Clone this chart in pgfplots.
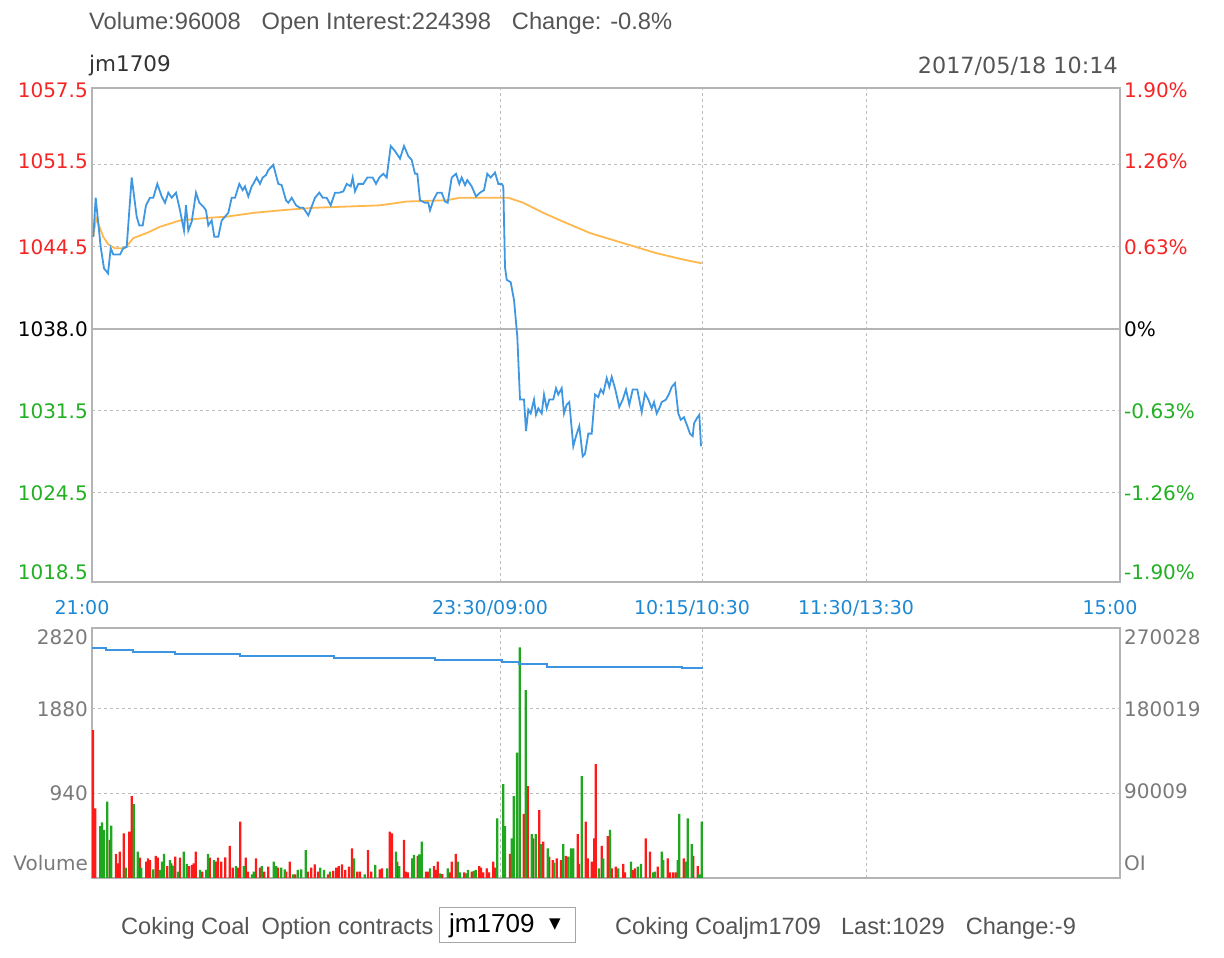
\documentclass[border=0pt]{standalone}
\usepackage{fontspec}
\setmainfont{Liberation Sans}
\newfontfamily\dejavu{DejaVu Sans}
\usepackage{pgfplots}
\pgfplotsset{compat=1.18}
\definecolor{pblue}{HTML}{3F97E2}
\definecolor{porange}{HTML}{FFB84D}
\definecolor{vred}{HTML}{FF1A1A}
\definecolor{vgreen}{HTML}{1FA71F}
\definecolor{lred}{HTML}{F52525}
\definecolor{lgreen}{HTML}{22B022}
\definecolor{tblue}{HTML}{1E88D2}
\definecolor{frame}{HTML}{B4B4B4}
\definecolor{gridc}{HTML}{BDBDBD}
\definecolor{txt}{HTML}{555555}
\definecolor{vtxt}{HTML}{7A7A7A}
\definecolor{oiblue}{HTML}{3D94E0}

\pgfplotsset{
  panel/.style={anchor=south west, width=1028pt, scale only axis,
    xmin=0, xmax=1028,
    major tick length=0pt,
    scaled y ticks=false,
    grid style={gridc, line width=1pt, dash pattern=on 3pt off 3pt},
  },
  lefttl/.style={yticklabel style={font=\dejavu\fontsize{20}{22}\selectfont, inner sep=0pt, xshift=-4pt}},
  righttl/.style={yticklabel pos=right, yticklabel style={font=\dejavu\fontsize{20}{22}\selectfont, inner sep=0pt, anchor=west, xshift=4pt}},
}

\begin{document}
\begin{tikzpicture}[x=1pt,y=1pt]
\useasboundingbox (0,0) rectangle (1224,958);

% header texts
\node[anchor=west, text=txt, font=\fontsize{23.7}{27}\selectfont, inner sep=0pt] at (89,935)
  {Volume:96008\hspace{21pt}Open Interest:224398\hspace{21pt}Change: -0.8\%};
\node[anchor=west, text=black!80, font=\dejavu\fontsize{21.5}{23}\selectfont, inner sep=0pt] at (89,892) {jm1709};
\node[anchor=east, text=txt, font=\dejavu\fontsize{22.3}{24}\selectfont, inner sep=0pt] at (1118,892) {2017/05/18 10:14};

% ---------------- price panel ----------------
\begin{axis}[panel, at={(92pt,376pt)}, height=494pt,
  ymin=1017.94, ymax=1057.1,
  axis line style={draw=frame, line width=1.6pt},
  xtick={0,408,610,774,1028},
  xticklabels={21:00,23:30/09:00,10:15/10:30,11:30/13:30,15:00},
  xmajorgrids,
  xticklabel style={font=\dejavu\fontsize{19}{21}\selectfont, text=tblue, inner sep=0pt, xshift=-10pt, yshift=-18pt},
  ytick={1018.74,1025,1031.5,1038,1044.5,1051.3,1056.95},
  yticklabels={\textcolor{lgreen}{1018.5},\textcolor{lgreen}{1024.5},\textcolor{lgreen}{1031.5},\textcolor{black}{1038.0},\textcolor{lred}{1044.5},\textcolor{lred}{1051.5},\textcolor{lred}{1057.5}},
  lefttl,
]
\draw[gridc, line width=1pt, dash pattern=on 3pt off 3pt] (axis cs:0,1025) -- (axis cs:1028,1025);
\draw[gridc, line width=1pt, dash pattern=on 3pt off 3pt] (axis cs:0,1031.5) -- (axis cs:1028,1031.5);
\draw[gridc, line width=1pt, dash pattern=on 3pt off 3pt] (axis cs:0,1044.5) -- (axis cs:1028,1044.5);
\draw[gridc, line width=1pt, dash pattern=on 3pt off 3pt] (axis cs:0,1051) -- (axis cs:1028,1051);
\draw[frame, line width=1.8pt] (axis cs:0,1038) -- (axis cs:1028,1038);

% average price
\addplot[porange, line width=1.8pt] coordinates {
(1.3,1045.3)(4,1046.8)(11.3,1045.3)(16.3,1044.7)(23,1044.4)(33,1044.4)(41.3,1045.2)(54.7,1045.6)(68,1046.1)(88,1046.6)(114.7,1046.8)(134.7,1046.9)(161.3,1047.2)(188,1047.4)(221.3,1047.6)(254.7,1047.7)(288,1047.8)(314.7,1048.1)(354.7,1048.2)(368,1048.4)(409.7,1048.4)(416.3,1048.4)(431.3,1048.0)(451.3,1047.2)(471.3,1046.5)(498,1045.6)(531.3,1044.8)(564.7,1044.0)(591.3,1043.5)(609.7,1043.2)
};
% price
\addplot[pblue, line width=1.8pt] coordinates {
(1.3,1045.3)(3.7,1048.4)(8.7,1044.5)(12,1042.8)(16,1042.4)(18.7,1044.4)(21.3,1043.9)(28,1043.9)(31.3,1044.4)(34.7,1044.5)(39.7,1050.0)(44.7,1046.9)(47.3,1046.2)(50.7,1046.2)(54,1047.8)(58,1048.4)(61.3,1048.4)(65.3,1049.5)(69.7,1048.5)(73,1048.0)(76.3,1048.8)(79.7,1048.4)(84,1048.8)(88,1047.4)(92,1045.8)(94,1047.8)(96.3,1045.8)(99.7,1046.5)(104,1048.8)(107.3,1048.0)(111.3,1047.7)(114,1047.4)(116.3,1046.2)(119.7,1046.6)(122.3,1045.3)(126.3,1045.3)(129.7,1046.6)(133,1046.9)(136.3,1047.2)(139.7,1048.4)(143,1048.4)(147.3,1049.5)(150.7,1049.0)(153,1049.3)(156.3,1048.5)(159.7,1049.3)(161.3,1049.5)(164.7,1050.0)(168,1049.5)(170.7,1050.0)(174,1050.2)(176.3,1050.6)(181.3,1051.0)(186.3,1049.5)(189.7,1049.4)(194,1048.2)(196.3,1048.0)(199.7,1048.4)(204,1047.8)(208,1047.6)(211.3,1047.6)(216.3,1047.0)(219.7,1047.7)(223,1048.4)(227.3,1048.8)(230.7,1048.4)(234.7,1048.4)(238.7,1047.8)(243,1048.8)(247.3,1048.8)(251.3,1048.9)(254.7,1049.5)(258.7,1049.3)(260.7,1050.0)(263,1048.9)(266.3,1049.5)(271.3,1049.5)(275.3,1050.0)(280.7,1050.0)(284,1049.5)(287.3,1050.0)(291.3,1050.3)(294.7,1050.0)(298.7,1052.5)(303,1052.1)(308,1051.5)(312,1052.5)(316.3,1051.7)(319.7,1051.4)(323,1050.3)(325.3,1050.3)(328,1048.2)(333,1048.0)(336.3,1048.0)(338,1047.4)(341.3,1048.2)(345.3,1048.8)(349.7,1048.8)(353,1048.1)(355.7,1048.0)(359.7,1050.0)(364,1050.3)(367.3,1049.5)(369.7,1050.0)(373,1049.4)(375.3,1049.8)(379.7,1049.3)(384,1048.5)(388,1048.8)(392,1049.0)(395.3,1050.3)(398.7,1050.0)(403,1050.4)(406.3,1049.5)(409.7,1049.5)(411.3,1049.3)(413,1042.9)(414.7,1041.9)(418.7,1041.7)(422,1040.3)(425.3,1037.4)(428,1032.4)(432,1032.4)(434,1029.9)(436.3,1031.6)(438.7,1031.3)(442,1032.4)(444,1031.2)(446.3,1031.7)(449.7,1031.3)(452,1032.8)(454.7,1031.7)(457.3,1032.4)(461.3,1032.4)(464,1033.3)(466.3,1032.8)(469.7,1033.3)(472,1031.3)(474.7,1032.0)(477.3,1032.2)(481.3,1028.7)(484,1029.5)(487.3,1030.3)(490.7,1027.9)(493,1028.1)(496.3,1029.7)(499.7,1029.7)(503,1032.8)(506.3,1032.6)(508.7,1033.2)(511.3,1032.9)(514.7,1034.1)(517.3,1033.4)(519.7,1034.2)(523,1033.3)(527.3,1031.8)(530.7,1032.4)(534,1033.2)(537.3,1032.0)(540.7,1033.2)(545.3,1033.2)(549.7,1031.4)(553,1032.9)(556.3,1032.4)(559.7,1031.7)(562,1032.2)(564.7,1031.3)(567.3,1031.7)(569.7,1032.2)(574,1032.4)(577.3,1032.9)(579.7,1033.4)(583,1033.7)(586.3,1031.3)(588.7,1030.8)(592,1031.0)(595.3,1030.3)(598,1029.7)(600.7,1029.5)(602,1030.5)(604.7,1030.9)(607.3,1031.2)(609,1028.7)
};
\end{axis}

% right percent labels
\begin{axis}[panel, at={(92pt,376pt)}, height=494pt,
  ymin=1017.94, ymax=1057.1,
  axis line style={draw=none}, xtick=\empty,
  ytick={1018.74,1025,1031.5,1038,1044.5,1051.3,1056.95},
  yticklabels={\textcolor{lgreen}{-1.90\%},\textcolor{lgreen}{-1.26\%},\textcolor{lgreen}{-0.63\%},\textcolor{black}{0\%},\textcolor{lred}{0.63\%},\textcolor{lred}{1.26\%},\textcolor{lred}{1.90\%}},
  righttl,
]
\end{axis}

% ---------------- volume panel ----------------
\begin{axis}[panel, at={(92pt,80pt)}, height=250pt,
  ymin=0, ymax=2781,
  axis line style={draw=frame, line width=1.6pt},
  xtick={0,408,610,774,1028}, xticklabels={},
  xmajorgrids,
  ytick={167,940,1880,2680},
  yticklabels={Volume,940,1880,2820},
  lefttl, yticklabel style={text=vtxt},
]
\draw[gridc, line width=1pt, dash pattern=on 3pt off 3pt] (axis cs:0,940) -- (axis cs:1028,940);
\draw[gridc, line width=1pt, dash pattern=on 3pt off 3pt] (axis cs:0,1880) -- (axis cs:1028,1880);
\addplot[ybar, bar width=2.2pt, bar shift=0pt, fill=vred, draw=none] coordinates {
(1,1646)(3.3,775)(17.7,423)(24,267)(26,163)(27.7,293)(31.7,497)(37.3,515)(39.7,912)(48,226)(54.3,182)(56,219)(58,200)(63.7,245)(65.7,226)(75.3,133)(79.3,163)(83.3,237)(88,226)(97,133)(100,145)(101.7,163)(103.7,293)(110.3,70)(117.7,226)(124,182)(126,226)(129.3,182)(133.3,230)(137.7,356)(140.7,115)(146,115)(148.3,626)(153.7,226)(156,70)(164,219)(168,115)(172.3,70)(176.3,126)(186,115)(194.3,70)(197.7,182)(203.3,41)(215.7,70)(219.3,115)(222.7,152)(226,70)(236,41)(241.3,78)(244.3,115)(246.7,133)(250,152)(253.3,89)(257,126)(260,330)(265.3,70)(268,70)(276,311)(279.3,70)(287.7,96)(290,108)(297.7,515)(300,497)(305.3,182)(312,423)(314,70)(315.7,63)(325.7,245)(334,70)(335.7,70)(342,133)(343.7,89)(345.7,182)(350.3,44)(358,63)(359.7,182)(363.7,267)(372.3,63)(379.7,70)(387.3,133)(389,115)(391.3,63)(394.7,108)(397,63)(401.3,182)(403,115)(418,267)(431.7,712)(435.7,1023)(441.3,441)(447.3,756)(451.3,404)(457.3,237)(460.7,200)(464.7,219)(469,200)(473.7,245)(485.7,489)(487,156)(493.7,626)(495.7,219)(499.7,182)(502.3,441)(503.7,1268)(509.7,356)(515.7,467)(519.7,108)(523.7,126)(531.3,156)(533,63)(541,89)(543,108)(553.7,441)(558,293)(565.7,126)(575.7,219)(578,63)(581.3,63)(584,63)(591.7,219)(601.3,245)(605.7,133)
};
\addplot[ybar, bar width=2.2pt, bar shift=0pt, fill=vgreen, draw=none] coordinates {
(8.3,578)(10,619)(12,534)(15.3,849)(19.3,582)(33.7,115)(41.7,823)(45.7,293)(49.3,115)(61.3,96)(67.7,89)(70,182)(72,267)(78,200)(81,137)(86,70)(91.7,293)(94.7,156)(108,89)(114.3,89)(116,267)(122,200)(144,133)(151.7,133)(160,41)(161.7,70)(169.7,133)(181.7,182)(184.3,133)(189.3,115)(192.7,96)(201.3,41)(205.7,89)(209.3,96)(213.7,311)(228.3,115)(232,89)(238,70)(262,219)(272.7,41)(283.3,145)(295.3,108)(304,293)(307.3,133)(320.3,219)(322,256)(327.3,263)(329.7,404)(338,108)(348,52)(355.7,108)(365.7,182)(368,63)(374,52)(376,89)(381.7,78)(383.7,89)(405.3,664)(411.3,1045)(413,578)(419.7,441)(421.7,912)(425,1394)(427.7,2565)(433.7,2091)(439.7,489)(443.7,489)(449,378)(455.7,330)(462.3,170)(471.3,378)(476.3,237)(479,330)(481.3,330)(489.7,1134)(507,108)(511.3,219)(518,534)(526.3,108)(539,182)(545.7,126)(549,156)(561.3,63)(563,70)(569.7,293)(571.3,200)(585.7,200)(587.3,712)(593.7,182)(595.7,664)(599.7,378)(607.3,41)(609.7,626)
};
\end{axis}

% open interest (right scale)
\begin{axis}[panel, at={(92pt,80pt)}, height=250pt,
  ymin=-5492, ymax=268933,
  axis line style={draw=none}, xtick=\empty,
  ytick={10973,90009,180019,259053},
  yticklabels={OI,90009,180019,270028},
  righttl, yticklabel style={text=vtxt},
]
\addplot[const plot, oiblue, line width=2pt] coordinates {
(0,246430)(13.7,244234)(41,242039)(82.6,240063)(147.7,237868)(242,235672)(343,233257)(410,231062)(427,229086)(455,226452)(590,224476)(610,224398)
};
\end{axis}

% bottom line
\node[anchor=west, text=txt, font=\fontsize{23.6}{27}\selectfont, inner sep=0pt] at (121,30) {Coking Coal\hspace{12pt}Option contracts};
\draw[draw=black!35, line width=1pt] (439,15) rectangle (575,50);
\node[anchor=west, text=black, font=\fontsize{26}{28}\selectfont, inner sep=0pt] at (449,32) {jm1709};
\node[anchor=center, text=black, font=\dejavu\fontsize{15}{16}\selectfont, inner sep=0pt] at (555,33) {▼};
\node[anchor=west, text=txt, font=\fontsize{23.6}{27}\selectfont, inner sep=0pt] at (615,30) {Coking Coaljm1709\hspace{20pt}Last:1029\hspace{21pt}Change:-9};
\end{tikzpicture}
\end{document}
